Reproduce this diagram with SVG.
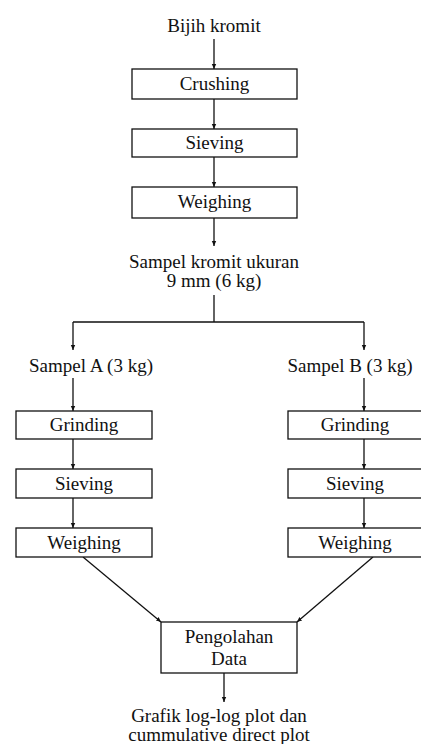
<svg xmlns="http://www.w3.org/2000/svg" width="421" height="744" viewBox="0 0 421 744">
<style>
text{font-family:'Liberation Serif','Times New Roman','DejaVu Serif',serif;font-size:19px;fill:#111;text-anchor:middle}
.box{fill:#fff;stroke:#111;stroke-width:1.3}
.ln{fill:none;stroke:#111;stroke-width:1.3}
</style>
<defs>
<marker id="ah" markerWidth="6" markerHeight="6" refX="5" refY="3" orient="auto" markerUnits="userSpaceOnUse">
<path d="M0,0.8 L5,3 L0,5.2 Z" fill="#111"/>
</marker>
</defs>
<rect width="421" height="744" fill="#fff"/>
<g id="connectors">
<path class="ln" d="M214,39 V69" marker-end="url(#ah)"/>
<path class="ln" d="M214,99 V129" marker-end="url(#ah)"/>
<path class="ln" d="M214,157 V187" marker-end="url(#ah)"/>
<path class="ln" d="M214,218 V246" marker-end="url(#ah)"/>
<path class="ln" d="M214,295 V322 M73,322 H364"/>
<path class="ln" d="M73,322 V350" marker-end="url(#ah)"/>
<path class="ln" d="M364,322 V350" marker-end="url(#ah)"/>
<path class="ln" d="M73,378 V411" marker-end="url(#ah)"/>
<path class="ln" d="M73,439 V469" marker-end="url(#ah)"/>
<path class="ln" d="M73,498 V528" marker-end="url(#ah)"/>
<path class="ln" d="M364,378 V411" marker-end="url(#ah)"/>
<path class="ln" d="M364,439 V469" marker-end="url(#ah)"/>
<path class="ln" d="M364,498 V528" marker-end="url(#ah)"/>
<path class="ln" d="M83,557 L161,622" marker-end="url(#ah)"/>
<path class="ln" d="M373,557 L297,622" marker-end="url(#ah)"/>
<path class="ln" d="M224,673 V702" marker-end="url(#ah)"/>
</g>
<g id="bijih"><text x="214" y="32">Bijih kromit</text></g>
<g id="crushing"><rect class="box" x="132" y="69" width="165" height="30"/><text x="214.5" y="90">Crushing</text></g>
<g id="sieving1"><rect class="box" x="132" y="129" width="165" height="28"/><text x="214.5" y="149">Sieving</text></g>
<g id="weighing1"><rect class="box" x="132" y="187" width="165" height="31"/><text x="214.5" y="208">Weighing</text></g>
<g id="sampel"><text x="214" y="268">Sampel kromit ukuran</text><text x="214" y="287">9 mm (6 kg)</text></g>
<g id="sampelA"><text x="91" y="372">Sampel A (3 kg)</text></g>
<g id="sampelB"><text x="350" y="372">Sampel B (3 kg)</text></g>
<g id="grindingA"><rect class="box" x="16" y="411" width="136" height="28"/><text x="84" y="431">Grinding</text></g>
<g id="sievingA"><rect class="box" x="16" y="469" width="136" height="29"/><text x="84" y="490">Sieving</text></g>
<g id="weighingA"><rect class="box" x="16" y="528" width="136" height="29"/><text x="84" y="549">Weighing</text></g>
<g id="grindingB"><rect class="box" x="288" y="411" width="136" height="28"/><text x="355" y="431">Grinding</text></g>
<g id="sievingB"><rect class="box" x="288" y="469" width="136" height="29"/><text x="355" y="490">Sieving</text></g>
<g id="weighingB"><rect class="box" x="288" y="528" width="136" height="29"/><text x="355" y="549">Weighing</text></g>
<g id="pengolahan"><rect class="box" x="161" y="622" width="136" height="51"/><text x="229" y="643">Pengolahan</text><text x="229" y="665">Data</text></g>
<g id="grafik"><text x="219" y="722">Grafik log-log plot dan</text><text x="219" y="741">cummulative direct plot</text></g>
</svg>
